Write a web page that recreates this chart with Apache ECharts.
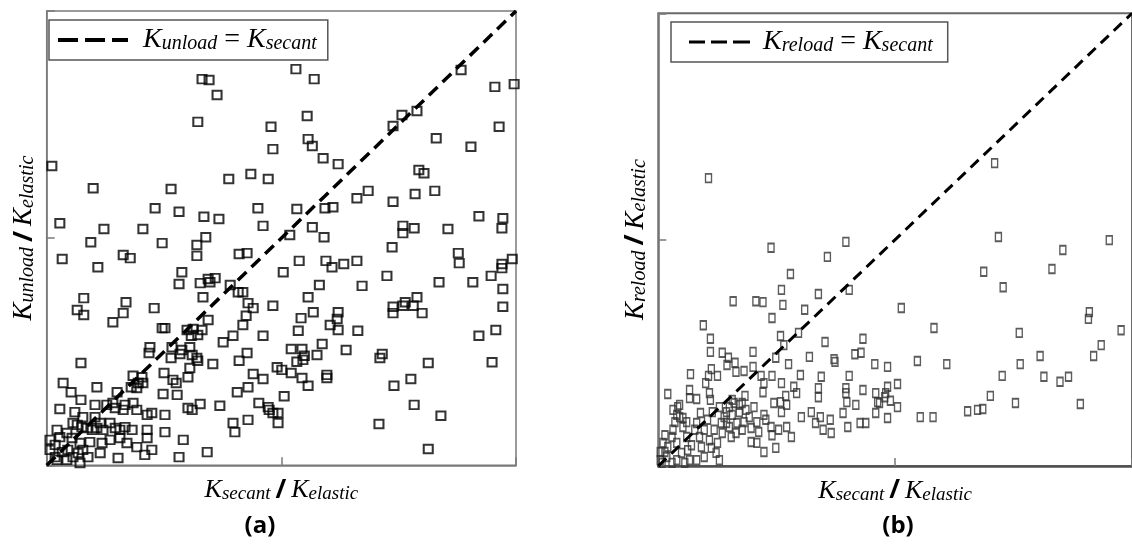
<!DOCTYPE html>
<html><head><meta charset="utf-8">
<script src="https://cdn.jsdelivr.net/npm/echarts@6/dist/echarts.min.js"></script>
<style>html,body{margin:0;padding:0;background:#fff}#c{width:1132px;height:555px}</style>
</head><body><div id="c"></div>
<script>
// Panel (a): K_secant/K_elastic (x, %) vs K_unload/K_elastic (y, %)
const secantA = [33.1,34.6,36.3,32.2,47.8,48.2,1.1,9.9,26.5,38.8,43.5,47.2,2.8,12.2,23.1,28.2,33.5,36.7,45.0,46.1,20.5,9.4,24.6,32.0,33.9,32.0,3.3,10.9,16.3,17.8,41.0,42.7,28.8,28.2,32.7,34.4,35.9,34.8,39.1,40.8,41.8,33.3,42.9,44.0,48.2,42.5,7.9,16.9,6.5,7.9,22.9,16.3,14.1,34.4,41.8,24.6,25.2,29.9,31.2,33.1,30.8,32.2,46.1,39.7,37.6,22.0,21.8,26.7,26.5,28.8,30.5,28.4,31.0,32.0,32.2,42.7,41.0,7.3,35.4,30.5,30.1,49.1,18.4,20.3,20.5,19.5,18.0,19.2,25.0,26.9,27.6,3.5,5.2,10.7,15.0,24.8,27.8,44.0,46.1,40.6,42.9,2.8,7.3,10.3,12.8,14.1,14.6,16.7,16.3,18.4,19.2,22.4,21.4,25.2,30.1,31.0,32.7,36.9,45.2,47.2,47.4,49.3,6.0,7.7,5.6,10.3,39.7,40.1,42.9,49.3,2.2,4.3,6.5,7.5,8.6,9.7,10.7,11.4,12.0,13.5,14.6,15.6,16.7,18.2,21.4,21.4,25.2,29.1,0.7,1.8,2.8,5.4,7.1,9.2,11.8,13.5,15.6,17.1,19.2,22.4,34.2,28.2,0.7,1.8,3.3,4.5,5.6,6.7,7.7,8.8,7.1,2.2,4.3,11.4,15.2,20.9,
53.1,57.0,88.3,95.5,99.6,55.5,75.7,78.9,73.8,96.4,55.7,56.6,83.0,90.4,58.9,62.1,79.3,80.4,68.5,66.1,73.8,78.5,82.7,53.3,59.3,61.0,92.1,97.2,97.0,56.6,75.9,78.3,75.9,85.5,51.8,59.1,73.6,87.7,87.9,53.8,59.5,60.8,63.3,66.1,50.4,72.5,83.6,90.8,94.7,97.0,97.0,99.2,97.2,97.2,58.1,55.7,67.2,73.8,73.8,75.9,76.4,78.1,78.9,80.0,54.2,56.8,62.1,61.9,60.4,62.1,53.6,66.3,92.1,95.7,58.7,52.1,54.4,54.9,57.6,53.3,54.6,63.8,71.5,71.0,81.3,94.9,50.1,52.1,54.4,55.7,59.7,59.7,74.0,77.6,50.6,78.3,84.0,48.2,70.8,81.3];
const unloadA = [85.0,84.8,81.5,75.6,74.5,69.6,65.9,61.0,60.8,63.0,64.1,63.0,53.3,52.0,56.6,55.8,54.7,54.2,56.6,52.7,52.0,49.1,48.9,48.5,50.2,46.1,45.4,43.6,46.3,45.6,46.5,46.7,42.5,39.9,40.1,41.0,41.2,40.3,39.7,38.1,38.1,37.0,35.7,34.6,35.1,32.9,36.8,35.9,34.2,33.1,34.6,33.5,31.5,32.0,30.9,30.2,30.2,29.8,30.0,29.8,28.5,28.7,28.5,28.5,27.1,26.0,24.7,26.0,23.6,25.4,26.0,24.5,24.3,23.6,23.0,24.7,23.0,22.5,22.3,21.4,19.4,21.6,19.7,19.4,18.1,18.1,17.2,17.0,20.3,18.8,18.1,18.1,16.1,17.2,16.1,15.7,15.5,20.1,19.0,16.1,17.2,12.4,14.4,13.3,13.3,13.7,12.6,13.3,12.2,13.7,12.2,11.5,11.1,11.1,12.6,12.2,13.5,13.1,13.7,12.8,12.2,11.5,11.7,10.6,9.3,10.6,9.3,7.3,10.0,9.3,7.8,7.1,8.9,8.4,8.2,7.8,8.2,9.3,7.8,9.3,8.2,7.8,8.4,7.8,7.8,6.0,7.3,5.6,5.6,4.5,6.2,6.0,4.9,5.1,4.9,5.6,6.0,4.9,4.0,3.4,2.9,1.8,3.4,1.8,2.9,3.4,1.8,2.7,3.4,1.8,0.5,1.2,1.2,2.7,1.6,2.3,
87.2,85.0,87.0,83.3,83.9,76.9,77.1,78.0,74.7,74.5,71.8,70.3,72.0,70.1,67.6,66.3,65.0,64.3,60.4,58.8,58.0,59.7,60.4,56.4,56.6,56.8,54.8,54.4,52.2,52.4,52.7,52.2,51.1,52.0,50.7,50.2,48.0,46.7,44.5,45.0,45.0,43.6,44.3,45.0,42.5,41.7,40.3,40.3,41.7,44.3,43.4,45.4,38.8,34.9,39.7,37.0,39.5,34.9,33.5,35.1,35.9,35.1,37.0,33.5,32.4,33.7,33.7,32.2,30.9,29.8,29.6,29.6,28.5,29.8,26.7,25.6,25.6,24.1,24.3,22.8,23.2,25.4,24.5,23.6,22.5,22.7,21.0,20.3,19.2,17.5,19.9,19.2,17.5,19.0,15.2,13.3,10.9,11.5,9.1,3.6];

// Panel (b): K_secant/K_elastic (x, %) vs K_reload/K_elastic (y, %)
const secantB = [10.6,39.6,71.0,71.8,95.2,23.8,35.7,27.9,26.0,40.3,15.8,20.6,22.1,26.3,33.8,30.9,24.0,9.5,11.0,25.8,29.6,35.2,43.2,26.5,11.0,13.5,14.8,14.5,16.2,20.0,24.8,27.5,31.9,37.1,37.3,41.5,42.8,45.7,48.4,11.2,16.4,18.1,20.0,24.0,6.8,12.5,10.6,10.0,21.7,22.3,26.0,30.0,34.4,40.3,2.0,6.6,6.6,8.1,10.8,11.0,12.9,18.3,22.1,28.6,29.2,26.9,25.8,33.8,33.8,39.6,39.6,39.8,43.2,45.9,46.3,48.0,3.1,4.1,5.2,8.9,14.4,16.0,17.7,18.5,20.2,22.3,22.7,24.4,26.0,27.1,30.2,32.3,34.2,33.2,34.8,36.3,36.5,39.0,40.0,41.7,42.6,43.8,45.9,28.1,24.8,22.3,19.6,20.8,17.7,16.4,14.4,
0.4,0.8,1.8,2.0,1.4,2.9,3.1,3.9,3.5,4.5,5.2,6.0,6.2,6.6,7.0,7.7,8.1,8.7,9.1,9.7,10.4,10.8,11.2,11.8,12.2,12.5,13.3,13.5,13.9,15.0,15.4,15.6,16.6,17.1,3.9,4.9,5.6,2.9,8.1,9.7,12.9,4.5,3.9,6.0,11.4,19.2,18.1,19.6,20.8,21.2,23.8,24.0,25.4,27.1,15.0,15.6,17.1,1.0,0.4,1.4,
85.4,68.7,83.1,72.8,51.3,58.2,91.0,90.8,97.7,76.2,93.5,91.9,80.6,54.7,60.9,76.4,72.6,81.4,84.8,86.6,50.5,48.4,47.8,49.0,50.5,48.4,46.7,70.1,75.4,89.1,55.3,58.0,65.3,67.4,68.5];
const reloadB = [63.6,49.5,66.9,50.6,49.9,48.2,46.2,42.4,38.9,38.9,36.4,36.4,36.2,35.6,38.0,34.5,32.7,31.1,28.1,28.7,29.4,27.4,28.1,26.7,25.2,25.0,23.9,22.3,22.8,25.2,23.9,22.5,24.1,23.6,23.0,24.7,25.0,22.5,21.9,21.4,20.8,21.0,21.9,19.9,20.3,19.9,19.9,18.3,19.9,18.3,18.3,20.1,19.7,19.9,15.9,16.8,15.0,14.8,16.1,14.6,13.0,15.5,16.3,17.5,16.1,15.5,14.1,17.2,15.2,17.2,16.1,14.1,16.8,16.1,14.1,16.1,12.4,13.0,10.6,11.7,11.9,13.9,13.9,12.4,13.0,11.3,10.2,13.9,11.9,13.5,10.8,11.9,10.8,9.5,8.0,10.2,7.3,11.7,8.6,13.5,9.5,9.5,11.7,6.4,4.0,3.1,5.3,5.1,8.0,7.3,9.5,
3.1,0.7,2.0,4.2,6.8,6.4,8.0,5.1,9.7,10.8,8.6,6.4,3.5,1.3,4.6,8.0,9.5,6.4,4.2,8.0,10.2,5.7,4.0,8.0,2.9,5.1,9.5,7.3,10.8,8.6,6.4,11.3,9.5,11.9,1.3,2.9,0.7,0.7,1.3,2.0,1.3,13.5,11.3,9.7,11.9,10.8,9.7,8.4,9.7,7.5,8.6,6.8,8.0,8.6,13.0,14.6,13.5,5.1,1.3,3.1,
47.7,42.9,43.5,39.5,34.9,30.5,34.0,32.5,30.0,29.4,26.7,24.3,24.3,23.2,22.5,22.5,19.9,19.7,18.6,19.7,18.1,17.5,15.2,14.4,13.0,10.6,13.9,15.5,13.9,13.7,10.8,10.8,12.1,12.4,12.6];

// identity reference line K = K_secant
const identityLine = [0, 100];

const serif = "'Liberation Serif','Times New Roman',serif";
const sans = "'Open Sans','Liberation Sans',sans-serif";
function rich(kSize, sSize, lead) {
  return {
    k0: {fontFamily: serif, fontStyle: 'italic', fontSize: kSize, color: '#000', verticalAlign: 'bottom', padding: [0, 0, 0, lead || 0]},
    k: {fontFamily: serif, fontStyle: 'italic', fontSize: kSize, color: '#000', verticalAlign: 'bottom'},
    s: {fontFamily: serif, fontStyle: 'italic', fontSize: sSize, color: '#000', verticalAlign: 'bottom'},
    sl: {fontFamily: sans, fontWeight: 'bold', fontSize: kSize, color: '#000', verticalAlign: 'bottom', padding: [0, 5, 0, 5]},
    e: {fontFamily: serif, fontSize: kSize, color: '#000', verticalAlign: 'bottom'}
  };
}
const frame = '#7a7a7a';
function xAx(gi, nameStr, gap, lineColor, lineWidth) {
  return {
    type: 'value', gridIndex: gi, min: 0, max: 100, interval: 50,
    axisLine: {show: true, lineStyle: {color: lineColor, width: lineWidth}},
    axisTick: {show: true, inside: true, length: 8, lineStyle: {color: frame, width: 1.5}},
    axisLabel: {show: false}, splitLine: {show: false},
    name: nameStr, nameLocation: 'middle', nameGap: gap,
    nameTextStyle: {rich: rich(26, 19)}
  };
}
function yAx(gi, nameStr, gap) {
  return {
    type: 'value', gridIndex: gi, min: 0, max: 100, interval: 50,
    axisLine: {show: true, lineStyle: {color: frame, width: 1.5}},
    axisTick: {show: true, inside: true, length: 8, lineStyle: {color: frame, width: 1.5}},
    axisLabel: {show: false}, splitLine: {show: false},
    name: nameStr, nameLocation: 'middle', nameGap: gap, nameRotate: 90,
    nameTextStyle: {rich: rich(27, 20)}
  };
}

const chart = echarts.init(document.getElementById('c'), null, {renderer: 'canvas'});
chart.setOption({
  animation: false,
  backgroundColor: '#fff',
  grid: [
    {left: 46.7, top: 11, right: 616, bottom: 89.7, show: true, borderColor: frame, borderWidth: 1.5},
    {left: 658.3, top: 13.3, right: -5, bottom: 89, show: true, borderColor: '#6a6a6a', borderWidth: 2}
  ],
  xAxis: [
    xAx(0, '{k|K}{s|secant}{sl|/}{k|K}{s|elastic}', 12, frame, 1.5),
    xAx(1, '{k|K}{s|secant}{sl|/}{k|K}{s|elastic}', 12, '#505050', 2.5)
  ],
  yAxis: [
    yAx(0, '{k|K}{s|unload}{sl|/}{k|K}{s|elastic}', 9),
    yAx(1, '{k|K}{s|reload}{sl|/}{k|K}{s|elastic}', 9)
  ],
  legend: [
    {
      left: 49, top: 20, data: ['Kunload = Ksecant'], selectedMode: false,
      icon: 'path://M0,0H20V4H0Z M27,0H47V4H27Z M54,0H70V4H54Z',
      itemWidth: 70, itemHeight: 4,
      padding: [6, 11, 6, 9], borderColor: '#555', borderWidth: 1.5,
      itemStyle: {color: '#000', borderWidth: 0},
      formatter: () => '{k0|K}{s|unload}{e| = }{k|K}{s|secant}',
      textStyle: {rich: rich(28, 20, 10)}
    },
    {
      left: 671, top: 22, data: ['Kreload = Ksecant'], selectedMode: false,
      icon: 'path://M0,0H16V3H0Z M22,0H38V3H22Z M44,0H61V3H44Z',
      itemWidth: 61, itemHeight: 3,
      padding: [6, 15, 6, 18], borderColor: '#555', borderWidth: 1.5,
      itemStyle: {color: '#000', borderWidth: 0},
      formatter: () => '{k0|K}{s|reload}{e| = }{k|K}{s|secant}',
      textStyle: {rich: rich(28, 20, 8)}
    }
  ],
  graphic: [
    {type: 'text', x: 260, y: 526, style: {text: '(a)', font: 'bold 24px ' + sans, fill: '#000', align: 'center', verticalAlign: 'middle'}},
    {type: 'text', x: 898, y: 526, style: {text: '(b)', font: 'bold 24px ' + sans, fill: '#000', align: 'center', verticalAlign: 'middle'}}
  ],
  series: [
    {
      name: 'pointsA', type: 'scatter', xAxisIndex: 0, yAxisIndex: 0,
      symbol: 'rect', symbolSize: [9, 8.5],
      itemStyle: {color: 'rgba(0,0,0,0)', borderColor: '#000', borderWidth: 2},
      data: secantA.map((x, i) => [x, unloadA[i]])
    },
    {
      name: 'Kunload = Ksecant', type: 'line', xAxisIndex: 0, yAxisIndex: 0,
      symbol: 'none', itemStyle: {color: '#000'},
      lineStyle: {color: '#000', width: 3.5, type: [12, 7]},
      data: identityLine.map(v => [v, v])
    },
    {
      name: 'pointsB', type: 'scatter', xAxisIndex: 1, yAxisIndex: 1,
      symbol: 'rect', symbolSize: [6, 8.5],
      itemStyle: {color: 'rgba(0,0,0,0)', borderColor: '#333', borderWidth: 1.6},
      data: secantB.map((x, i) => [x, reloadB[i]])
    },
    {
      name: 'Kreload = Ksecant', type: 'line', xAxisIndex: 1, yAxisIndex: 1,
      symbol: 'none', itemStyle: {color: '#000'},
      lineStyle: {color: '#000', width: 3, type: [11, 7]},
      data: identityLine.map(v => [v, v])
    }
  ]
});
</script>
</body></html>
